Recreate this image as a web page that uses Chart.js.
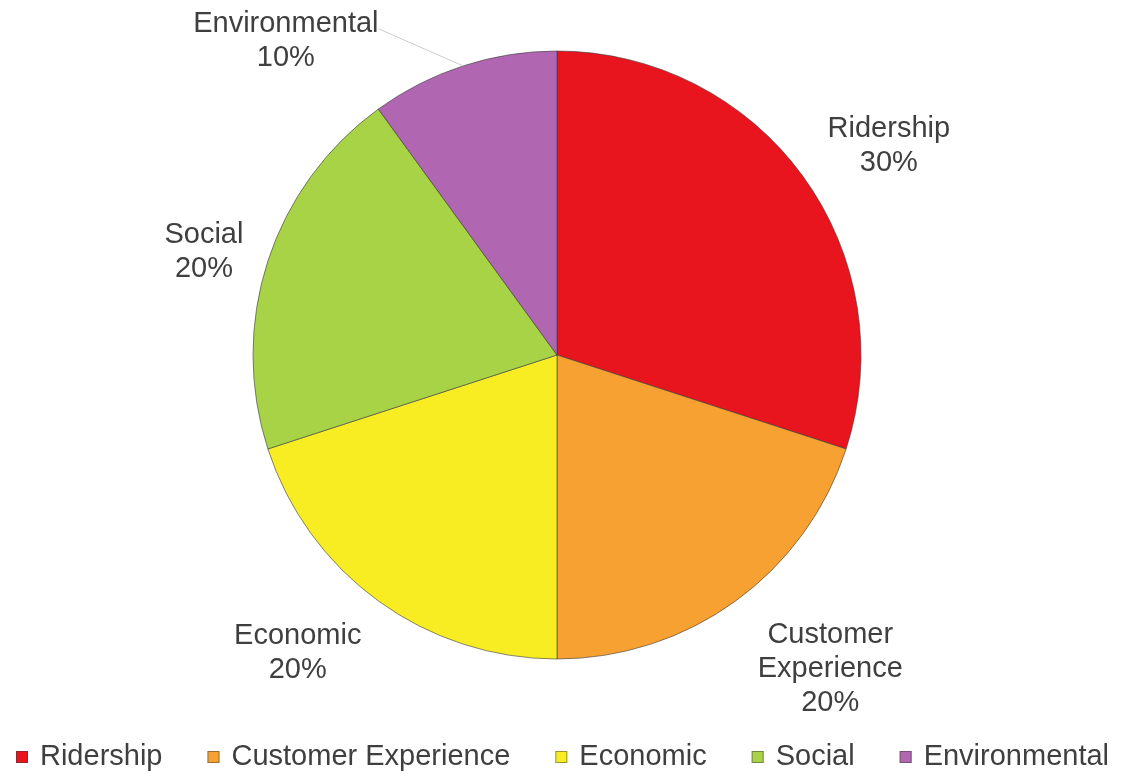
<!DOCTYPE html>
<html>
<head>
<meta charset="utf-8">
<script src="https://cdn.jsdelivr.net/npm/chart.js@4.4.1/dist/chart.umd.min.js"></script>
<style>
  html, body { margin: 0; padding: 0; background: #fff; overflow: hidden; }
  #wrap { width: 1125px; height: 774px; position: relative; }
</style>
</head>
<body>
<div id="wrap"><canvas id="grafico"></canvas></div>
<script>
const categorias = ["Ridership", "Customer Experience", "Economic", "Social", "Environmental"];
const porcentajes = [30, 20, 20, 20, 10];
const etiquetas = [["Ridership", "30%"], ["Customer", "Experience", "20%"], ["Economic", "20%"], ["Social", "20%"], ["Environmental", "10%"]];
const colores = ["#e8141e", "#f8a133", "#f8ec22", "#a8d346", "#b066b0"];

const fuente = "'Liberation Sans', Arial, sans-serif";

// posicion de cada etiqueta: giro (grados) y distancia relativa al radio
const ajusteEtiquetas = [
  { giro: 3.8, dist: 1.29 },
  { giro: -5, dist: 1.37 },
  { giro: 5, dist: 1.30 },
  { giro: -1.7, dist: 1.21 },
  { giro: -22.8, dist: 1.365, linea: true }
];

const etiquetasFuera = {
  id: "etiquetasFuera",
  afterDatasetsDraw(chart) {
    const ctx = chart.ctx;
    const arcos = chart.getDatasetMeta(0).data;
    ctx.save();
    ctx.font = "29px " + fuente;
    ctx.fillStyle = "#3f3f3f";
    ctx.textAlign = "center";
    ctx.textBaseline = "middle";
    const alto = 34;
    arcos.forEach((arco, i) => {
      const aj = ajusteEtiquetas[i];
      const medio = (arco.startAngle + arco.endAngle) / 2;
      const ang = medio + aj.giro * Math.PI / 180;
      const r = arco.outerRadius * aj.dist;
      const cx = arco.x + Math.cos(ang) * r;
      const cy = arco.y + Math.sin(ang) * r;
      const lineas = etiquetas[i];
      if (aj.linea) {
        ctx.strokeStyle = "#cccccc";
        ctx.lineWidth = 1;
        ctx.beginPath();
        ctx.moveTo(arco.x + Math.cos(medio) * arco.outerRadius, arco.y + Math.sin(medio) * arco.outerRadius);
        ctx.lineTo(cx + 93, cy - 12);
        ctx.stroke();
      }
      lineas.forEach((t, k) => {
        ctx.fillText(t, cx, cy + (k - (lineas.length - 1) / 2) * alto);
      });
    });

    // leyenda inferior, en una sola fila
    ctx.textAlign = "left";
    const caja = 12, sep = 12, hueco = 45, yLey = 757;
    const anchos = categorias.map(c => ctx.measureText(c).width);
    const total = anchos.reduce((a, b) => a + b, 0) + categorias.length * (caja + sep) + (categorias.length - 1) * hueco;
    let x = (chart.width - total) / 2;
    categorias.forEach((c, i) => {
      ctx.fillStyle = colores[i];
      ctx.fillRect(x, yLey - caja / 2, caja, caja);
      ctx.strokeStyle = "rgba(60,60,60,0.5)";
      ctx.lineWidth = 1;
      ctx.strokeRect(x + 0.5, yLey - caja / 2 + 0.5, caja - 1, caja - 1);
      ctx.fillStyle = "#3f3f3f";
      ctx.fillText(c, x + caja + sep, yLey);
      x += caja + sep + anchos[i] + hueco;
    });
    ctx.restore();
  }
};

new Chart(document.getElementById("grafico"), {
  type: "pie",
  data: {
    labels: categorias,
    datasets: [{
      data: porcentajes,
      backgroundColor: colores,
      borderColor: "rgba(60,60,60,0.6)",
      borderWidth: 1,
      radius: 304
    }]
  },
  options: {
    responsive: true,
    maintainAspectRatio: false,
    animation: false,
    layout: { padding: { top: 0, left: 0, right: 11, bottom: 64 } },
    plugins: {
      tooltip: { enabled: false },
      legend: { display: false }
    }
  },
  plugins: [etiquetasFuera]
});
</script>
</body>
</html>
